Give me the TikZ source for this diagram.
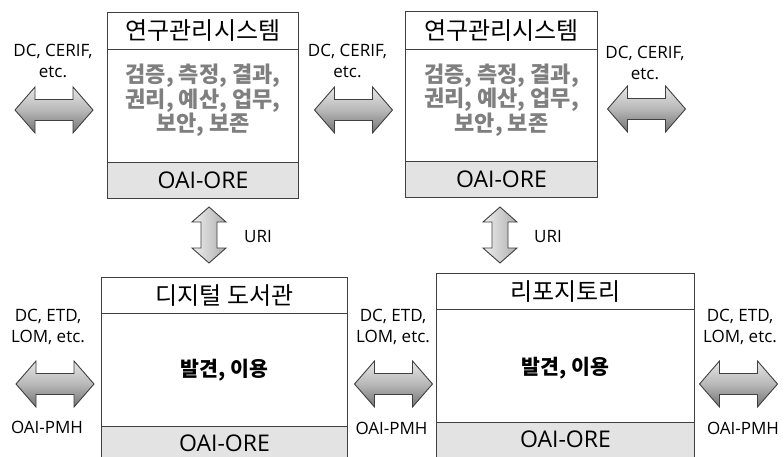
\documentclass[tikz,border=0pt]{standalone}
\usepackage{fontspec}
\setmainfont{Open Sans}
\newfontfamily\kr{Noto Sans CJK KR}
\definecolor{frame}{HTML}{404040}
\definecolor{footgray}{HTML}{E3E3E3}
\definecolor{bodygray}{HTML}{7F7F7F}
\tikzset{
  sect/.style={draw=frame, line width=1pt, inner sep=0pt, anchor=north west, fill=white},
  foot/.style={sect, fill=footgray},
  titletext/.style={inner sep=0pt, font=\kr\fontsize{24}{28}\selectfont},
  graytext/.style={inner sep=0pt, align=center, text=bodygray, font=\kr\bfseries\fontsize{22}{24.5}\selectfont},
  blacktext/.style={inner sep=0pt, align=center, font=\kr\bfseries\fontsize{20.5}{24}\selectfont},
  oretext/.style={inner sep=0pt, font=\fontsize{23}{27}\selectfont},
  small/.style={inner sep=0pt, align=center, font=\fontsize{17}{21.5}\selectfont},
  hshade/.style={draw=frame, line width=0.9pt, line join=miter, top color=black!10, bottom color=black!55, middle color=black!28},
  vshade/.style={draw=frame, line width=0.9pt, line join=miter, left color=black!6, right color=black!32},
  harrow/.pic={\path[hshade] (-39,0) -- (-19,-23) -- (-19,-10.5) -- (19,-10.5) -- (19,-23) -- (39,0) -- (19,23) -- (19,10.5) -- (-19,10.5) -- (-19,23) -- cycle;},
  varrow/.pic={\path[vshade] (0,-28) -- (17,-13) -- (8,-13) -- (8,13) -- (17,13) -- (0,28) -- (-17,13) -- (-8,13) -- (-8,-13) -- (-17,-13) -- cycle;}
}
\begin{document}
\begin{tikzpicture}[x=1pt,y=-1pt]
\useasboundingbox (0,0) rectangle (784,457);
\fill[white] (0,0) rectangle (784,457);

% top-left box
\node[sect, minimum width=191, minimum height=37] (tlT) at (107,12) {};
\node[sect, minimum width=191, minimum height=113] (tlB) at (107,49) {};
\node[foot, minimum width=191, minimum height=36] (tlF) at (107,162) {};
\node[titletext] (tlTt) at (tlT.center) {연구관리시스템};
\node[graytext] (tlBt) at ([yshift=5.5pt]tlB.center) {검증, 측정, 결과,\\권리, 예산, 업무,\\보안, 보존};
\node[oretext] (tlFt) at (tlF.center) {OAI-ORE};

% top-right box
\node[sect, minimum width=192, minimum height=38] (trT) at (405,11) {};
\node[sect, minimum width=192, minimum height=112] (trB) at (405,49) {};
\node[foot, minimum width=192, minimum height=36] (trF) at (405,161) {};
\node[titletext] (trTt) at (trT.center) {연구관리시스템};
\node[graytext] (trBt) at ([yshift=5.5pt]trB.center) {검증, 측정, 결과,\\권리, 예산, 업무,\\보안, 보존};
\node[oretext] (trFt) at (trF.center) {OAI-ORE};

% bottom-left box
\node[sect, minimum width=246, minimum height=36] (blT) at (101,277) {};
\node[sect, minimum width=246, minimum height=113] (blB) at (101,313) {};
\node[foot, minimum width=246, minimum height=44] (blF) at (101,426) {};
\node[titletext] (blTt) at (blT.center) {디지털 도서관};
\node[blacktext] (blBt) at (blB.center) {발견, 이용};
\node[oretext] (blFt) at ([yshift=-17pt]blF.north) {OAI-ORE};

% bottom-right box
\node[sect, minimum width=258, minimum height=36] (brT) at (436,273) {};
\node[sect, minimum width=258, minimum height=113] (brB) at (436,309) {};
\node[foot, minimum width=258, minimum height=48] (brF) at (436,422) {};
\node[titletext] (brTt) at (brT.center) {리포지토리};
\node[blacktext] (brBt) at ([yshift=-2pt]brB.center) {발견, 이용};
\node[oretext] (brFt) at ([yshift=-17pt]brF.north) {OAI-ORE};

% horizontal double arrows
\pic at (54,110) {harrow};
\pic at (353.5,110) {harrow};
\pic at (646.5,109) {harrow};
\pic at (55,384) {harrow};
\pic at (393.5,384) {harrow};
\pic at (738.5,384) {harrow};

% vertical double arrows
\pic at (209,235) {varrow};
\pic at (500,235) {varrow};

% labels
\node[small] (l1) at (53,61) {DC, CERIF,\\etc.};
\node[small] (l2) at (347.5,61) {DC, CERIF,\\etc.};
\node[small] (l3) at (645,63) {DC, CERIF,\\etc.};
\node[small] (u1) at (258,237) {URI};
\node[small] (u2) at (548,237) {URI};
\node[small] (b1) at (48,327) {DC, ETD,\\LOM, etc.};
\node[small] (b2) at (393,327) {DC, ETD,\\LOM, etc.};
\node[small] (b3) at (740,327) {DC, ETD,\\LOM, etc.};
\node[small] (p1) at (47,427) {OAI-PMH};
\node[small] (p2) at (391.5,428) {OAI-PMH};
\node[small] (p3) at (743,428) {OAI-PMH};
\end{tikzpicture}
\end{document}
